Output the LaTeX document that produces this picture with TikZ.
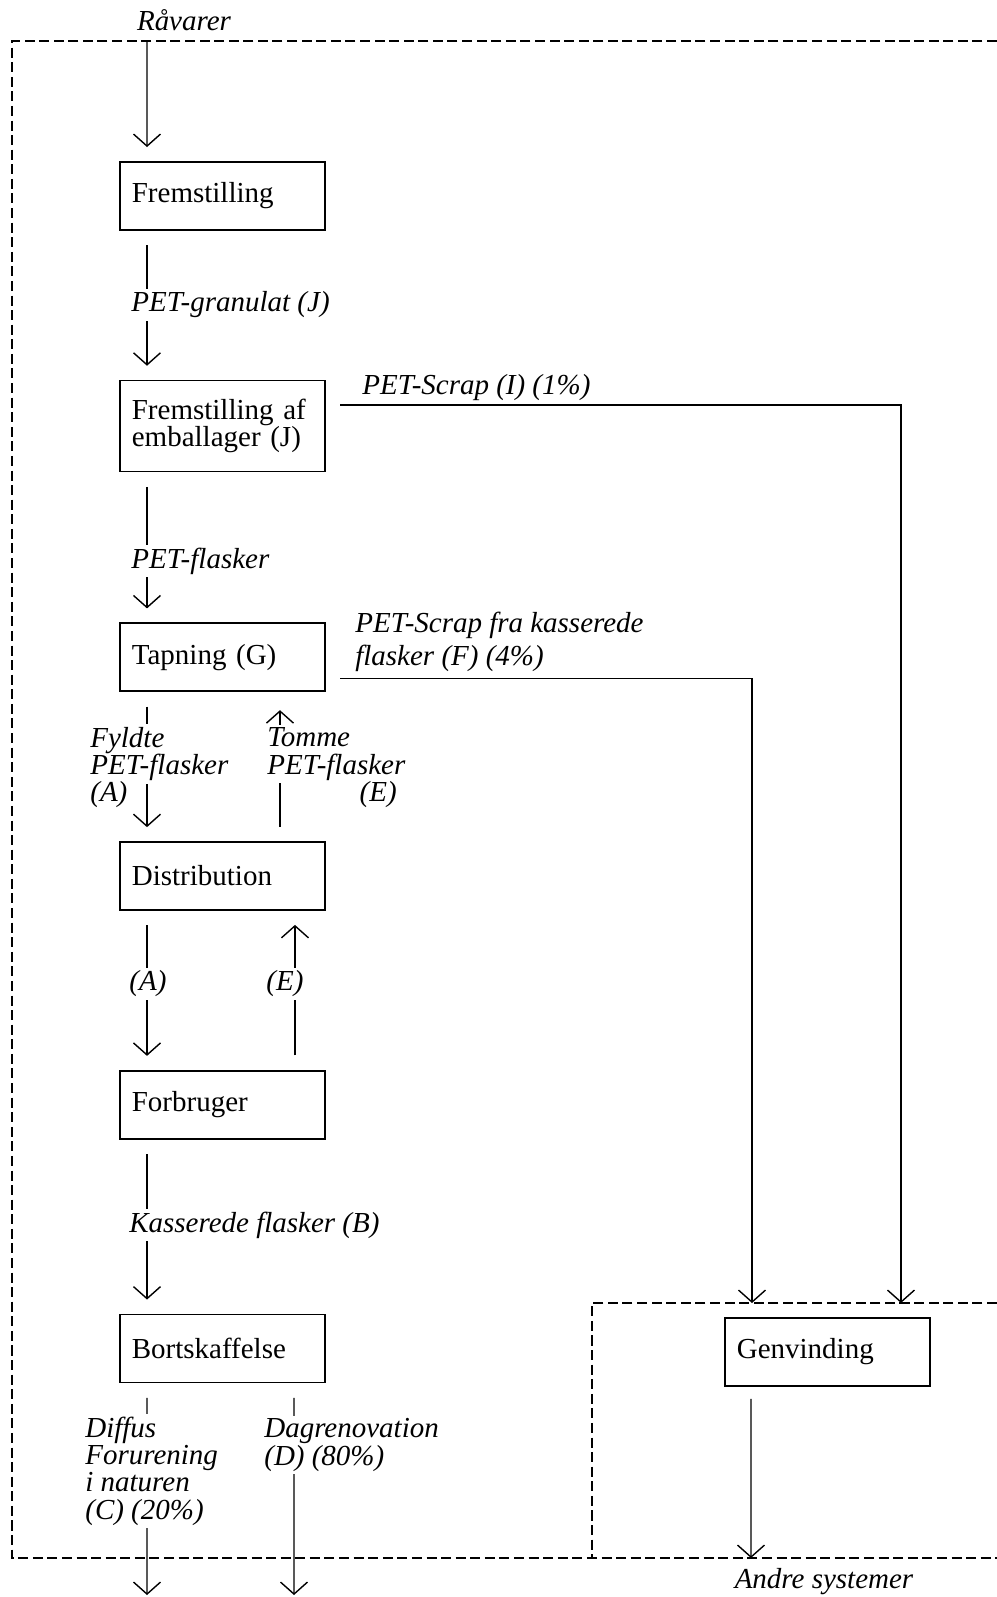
\documentclass[tikz,border=0pt]{standalone}
\usepackage{fontspec}
\setmainfont{Liberation Serif}
\usetikzlibrary{arrows.meta, positioning}
\tikzset{
  kasse/.style={rectangle, draw, line width=1pt, minimum width=4.1cm, minimum height=1.36cm,
    text width=3.62cm, inner xsep=0.24cm, align=left, font=\fontsize{16.5}{15.6}\selectfont},
  tekst/.style={font=\fontsize{16.5}{15.6}\selectfont\itshape, align=left, inner sep=0.06cm},
  pil/.style={-{Straight Barb[length=0.24cm, width=0.54cm]}, line width=0.8pt},
  kort/.style={shorten <=0.29cm, shorten >=0.28cm},
  graense/.style={dash pattern=on 5.7pt off 2.6pt, line width=0.9pt}
}

\begin{document}
\begin{tikzpicture}[x=0.02cm, y=-0.02cm]
  \useasboundingbox (0,0) rectangle (997,1597);
  % systemgraenser
  \draw[graense] (997,41) -- (12,41) -- (12,1558) -- (997,1558);
  \draw[graense] (997,1303) -- (592,1303) -- (592,1558);

  % processer
  \node[kasse, anchor=north west] (frem) at (119,161) {Fremstilling};
  \node[kasse, below=2.98cm of frem, minimum height=1.82cm] (emb) {Fremstilling af\\emballager (J)};
  \node[kasse, below=3.0cm of emb] (tap) {Tapning (G)};
  \node[kasse, below=2.98cm of tap] (dist) {Distribution};
  \node[kasse, below=3.18cm of dist] (forb) {Forbruger};
  \node[kasse, below=3.48cm of forb] (bort) {Bortskaffelse};
  \node[kasse, anchor=north west] (genv) at (724,1317) {Genvinding};

  \node[tekst] (raa) at (184,20) {Råvarer};
  \coordinate (ind) at (147,41);
  \coordinate (ud1) at (147,1595);
  \coordinate (ud2) at (294,1595);
  \coordinate (ud3) at (751,1558);

  % strømme
  \draw[pil, shorten >=0.28cm] (ind) -- ([xshift=0.56cm]frem.north west);
  \draw[pil, kort] ([xshift=0.56cm]frem.south west) -- ([xshift=0.56cm]emb.north west);
  \draw[pil, kort] ([xshift=0.56cm]emb.south west) -- ([xshift=0.56cm]tap.north west);
  \draw[pil, kort] ([yshift=0.42cm]emb.east) -| ([xshift=3.54cm]genv.north west);
  \draw[pil, kort] ([yshift=-0.42cm]tap.east) -| ([xshift=0.56cm]genv.north west);
  \draw[pil, kort] ([xshift=0.56cm]tap.south west) -- ([xshift=0.56cm]dist.north west);
  \draw[pil, shorten <=0.29cm, shorten >=0.36cm] ([xshift=3.22cm]dist.north west) -- ([xshift=3.22cm]tap.south west);
  \draw[pil, kort] ([xshift=0.56cm]dist.south west) -- ([xshift=0.56cm]forb.north west);
  \draw[pil, kort] ([xshift=3.52cm]forb.north west) -- ([xshift=3.52cm]dist.south west);
  \draw[pil, kort] ([xshift=0.56cm]forb.south west) -- ([xshift=0.56cm]bort.north west);
  \draw[pil, shorten <=0.29cm] ([xshift=0.56cm]bort.south west) -- (ud1);
  \draw[pil, shorten <=0.29cm] ([xshift=3.5cm]bort.south west) -- (ud2);
  \draw[pil, shorten <=0.24cm] ([xshift=0.54cm]genv.south west) -- (ud3);

  % etiketter
  \node[tekst, fill=white, anchor=west] (lgran) at (128,305) {PET-granulat (J)};
  \node[tekst, fill=white, anchor=west] (lfl) at (128,561) {PET-flasker};
  \node[tekst, anchor=west] (lscr1) at (359,388) {PET-Scrap (I) (1\%)};
  \node[tekst, anchor=west, font=\fontsize{16.5}{18.7}\selectfont\itshape] (lscr2) at (352,642) {PET-Scrap fra kasserede\\flasker (F) (4\%)};
  \node[tekst, fill=white, anchor=west] (lfyl) at (87,754) {Fyldte\\PET-flasker};
  \node[tekst, anchor=west] (lfyla) at (87,795) {(A)};
  \node[tekst, fill=white, anchor=west] (ltom) at (264,754) {Tomme\\PET-flasker};
  \node[tekst, anchor=east] (ltome) at (400,795) {(E)};
  \node[tekst, fill=white] (la) at (148,984) {(A)};
  \node[tekst, fill=white] (le) at (285,984) {(E)};
  \node[tekst, fill=white, anchor=west] (lkas) at (126,1225) {Kasserede flasker (B)};
  \node[tekst, fill=white, anchor=west] (ldif) at (82,1471) {Diffus\\Forurening\\i naturen\\(C) (20\%)};
  \node[tekst, fill=white, anchor=west] (ldag) at (261,1445) {Dagrenovation\\(D) (80\%)};
  \node[tekst] (landre) at (824,1582) {Andre systemer};
\end{tikzpicture}
\end{document}
